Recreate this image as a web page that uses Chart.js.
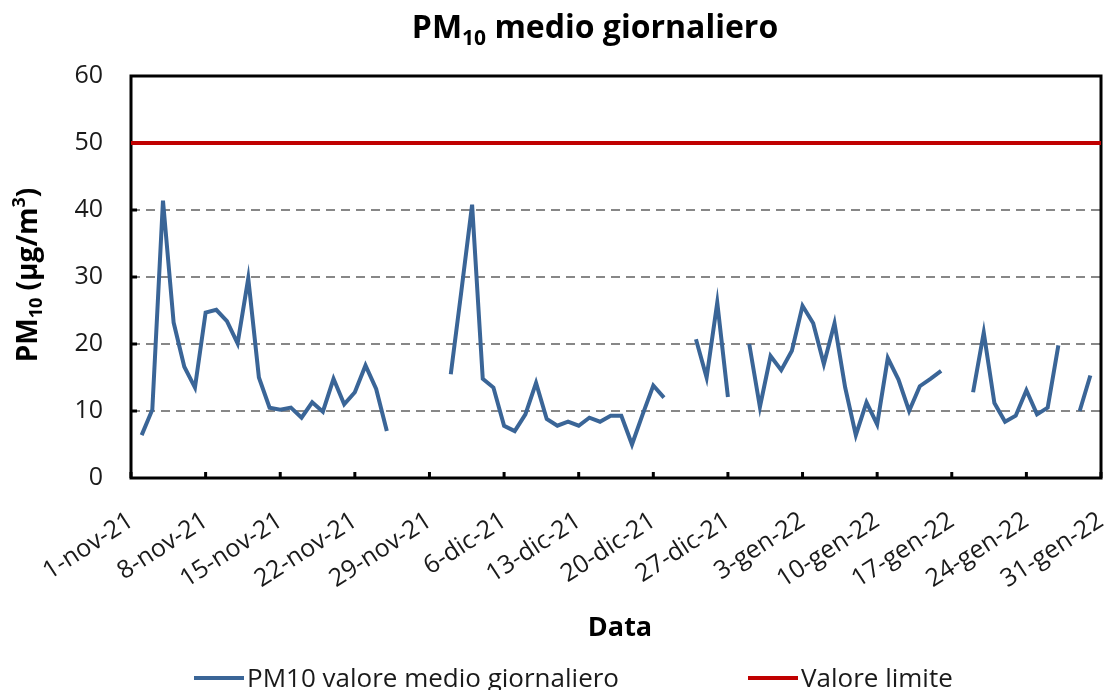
<!DOCTYPE html>
<html>
<head>
<meta charset="utf-8">
<script src="https://cdn.jsdelivr.net/npm/chart.js@4.4.0/dist/chart.umd.min.js"></script>
<style>
    html, body { margin: 0; padding: 0; background: #fff; }
    #wrap { width: 1107px; height: 690px; }
</style>
</head>
<body>
<div id="wrap"><canvas id="myChart" width="1107" height="690"></canvas></div>
<script>
// mesi dell'asse: [nome, anno, giorni]
const months = [['nov', '21', 30], ['dic', '21', 31], ['gen', '22', 31]];

const tickLabels = [
    '1-nov-21', '8-nov-21', '15-nov-21', '22-nov-21', '29-nov-21',
    '6-dic-21', '13-dic-21', '20-dic-21', '27-dic-21',
    '3-gen-22', '10-gen-22', '17-gen-22', '24-gen-22', '31-gen-22'
];

// PM10 medio giornaliero, dal 1-nov-21 al 31-gen-22 (null = dato mancante)
const pm10 = [
    null,
    6.4, 10.2, 41.4, 23.2, 16.6, 13.5, 24.7, 25.1, 23.4, 20.1,
    29.8, 15.0, 10.5, 10.2, 10.5, 9.0, 11.3, 9.9, 14.8, 11.0,
    12.8, 16.8, 13.3, 7.0,
    null, null, null, null, null,
    15.5, 28.0, 40.8, 14.8, 13.5, 7.8, 7.0, 9.5, 14.2, 8.8,
    7.8, 8.4, 7.8, 9.0, 8.4, 9.3, 9.3, 5.0, 9.5, 13.8, 12.0,
    null, null,
    20.7, 15.0, 26.2, 12.1,
    null,
    20.0, 10.6, 18.2, 16.1, 19.0, 25.7, 23.1, 17.0, 23.1, 13.5,
    6.4, 11.3, 8.0, 17.9, 14.7, 10.0, 13.7, 14.8, 16.0,
    null, null,
    12.8, 21.7, 11.2, 8.4, 9.3, 13.1, 9.5, 10.5, 19.8,
    null,
    10.0, 15.3,
    null
];

const limitDates = ['1-nov-21', '31-gen-22'];
const limitValues = [50, 50];

const yMin = 0;
const yMax = 60;
const yStep = 10;

const categories = [];
months.forEach(([m, y, n]) => {
    for (let d = 1; d <= n; d++) categories.push(`${d}-${m}-${y}`);
});

const FONT = '"Open Sans", Lato, sans-serif';
const TEXT = '#1a1a1a';

// testo con pedici/apici, centrato su cx
function drawRuns(ctx, runs, cx, baseY, weight) {
    let total = 0;
    runs.forEach(r => {
        ctx.font = `${weight} ${r.size}px ${FONT}`;
        r.w = ctx.measureText(r.text).width;
        total += r.w;
    });
    let x = cx - total / 2;
    ctx.textAlign = 'left';
    ctx.textBaseline = 'alphabetic';
    runs.forEach(r => {
        ctx.font = `${weight} ${r.size}px ${FONT}`;
        ctx.fillText(r.text, x, baseY + (r.dy || 0));
        x += r.w;
    });
}

const frame = {
    id: 'frame',
    beforeDatasetsDraw(chart) {
        const { ctx, chartArea: a, scales } = chart;
        ctx.save();
        ctx.strokeStyle = '#000';
        ctx.lineWidth = 3;
        ctx.strokeRect(a.left, a.top, a.right - a.left, a.bottom - a.top);

        for (let v = yMin + yStep; v < yMax; v += yStep) {
            const y = scales.y.getPixelForValue(v);
            ctx.beginPath();
            ctx.moveTo(a.left, y);
            ctx.lineTo(a.left + 6, y);
            ctx.stroke();
        }
        tickLabels.forEach(l => {
            const x = scales.x.getPixelForValue(categories.indexOf(l));
            ctx.beginPath();
            ctx.moveTo(x, a.bottom);
            ctx.lineTo(x, a.bottom - 6);
            ctx.stroke();
        });
        ctx.restore();
    },
    afterDraw(chart) {
        const { ctx } = chart;
        ctx.save();
        ctx.fillStyle = '#000';

        // titolo
        drawRuns(ctx, [
            { text: 'PM', size: 32 },
            { text: '10', size: 21, dy: 7 },
            { text: ' medio giornaliero', size: 32 }
        ], 595, 38, 'bold');

        // titolo asse y
        ctx.save();
        ctx.translate(37, 275);
        ctx.rotate(-Math.PI / 2);
        drawRuns(ctx, [
            { text: 'PM', size: 28 },
            { text: '10', size: 18, dy: 5 },
            { text: ' (µg/m', size: 28 },
            { text: '3', size: 18, dy: -12 },
            { text: ')', size: 28 }
        ], 0, 0, 'bold');
        ctx.restore();

        // titolo asse x
        drawRuns(ctx, [{ text: 'Data', size: 27 }], 620, 636, 'bold');

        // legenda
        const ds = chart.data.datasets;
        const items = [
            { x: 194, color: ds[0].borderColor, text: ds[0].label },
            { x: 748, color: ds[1].borderColor, text: ds[1].label }
        ];
        ctx.font = `26px ${FONT}`;
        ctx.textAlign = 'left';
        ctx.textBaseline = 'middle';
        items.forEach(it => {
            ctx.strokeStyle = it.color;
            ctx.lineWidth = 4;
            ctx.beginPath();
            ctx.moveTo(it.x, 678);
            ctx.lineTo(it.x + 50, 678);
            ctx.stroke();
            ctx.fillStyle = TEXT;
            ctx.fillText(it.text, it.x + 53, 680);
        });
        ctx.restore();
    }
};

const ctx = document.getElementById('myChart').getContext('2d');
new Chart(ctx, {
    type: 'line',
    data: {
        labels: categories,
        datasets: [
            {
                label: 'PM10 valore medio giornaliero',
                data: pm10,
                borderColor: '#3A6597',
                borderWidth: 4,
                pointRadius: 0,
                spanGaps: false,
                tension: 0
            },
            {
                label: 'Valore limite',
                data: limitDates.map((d, i) => ({ x: d, y: limitValues[i] })),
                borderColor: '#C00000',
                borderWidth: 4,
                pointRadius: 0
            }
        ]
    },
    options: {
        responsive: false,
        animation: false,
        layout: { padding: { top: 76, right: 6, left: 0, bottom: 0 } },
        plugins: {
            legend: { display: false },
            title: { display: false },
            tooltip: { enabled: false }
        },
        scales: {
            x: {
                type: 'category',
                offset: false,
                grid: { display: false },
                border: { display: false },
                ticks: {
                    autoSkip: false,
                    minRotation: 33,
                    maxRotation: 33,
                    padding: 20,
                    color: TEXT,
                    font: { family: FONT, size: 25 },
                    callback(value) {
                        const l = this.getLabelForValue(value);
                        return tickLabels.includes(l) ? l : '';
                    }
                },
                afterFit(s) {
                    s.height = 212;
                    s.paddingLeft = 0;
                    s.paddingRight = 0;
                }
            },
            y: {
                min: yMin,
                max: yMax,
                ticks: {
                    stepSize: yStep,
                    padding: 28,
                    color: TEXT,
                    font: { family: FONT, size: 25 }
                },
                grid: {
                    drawTicks: false,
                    lineWidth: 2,
                    color: c => (c.tick && c.tick.value > yMin && c.tick.value < 50) ? '#878787' : 'rgba(0,0,0,0)'
                },
                border: { display: false, dash: [9, 6] },
                afterFit(s) {
                    s.width = 131;
                }
            }
        }
    },
    plugins: [frame]
});
</script>
</body>
</html>
